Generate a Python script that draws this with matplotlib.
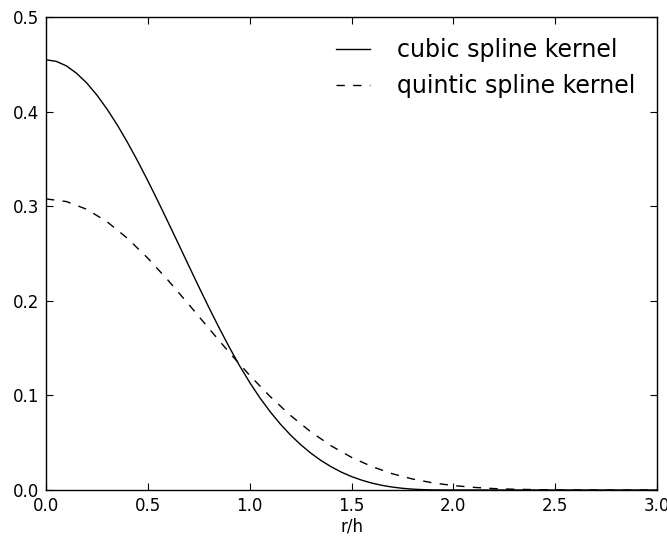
import matplotlib
matplotlib.use("Agg")
import matplotlib.pyplot as plt

# cubic spline kernel values (r/h step 0.05)
cubic_r = [0.00, 0.05, 0.10, 0.15, 0.20, 0.25, 0.30, 0.35, 0.40, 0.45,
           0.50, 0.55, 0.60, 0.65, 0.70, 0.75, 0.80, 0.85, 0.90, 0.95,
           1.00, 1.05, 1.10, 1.15, 1.20, 1.25, 1.30, 1.35, 1.40, 1.45,
           1.50, 1.55, 1.60, 1.65, 1.70, 1.75, 1.80, 1.85, 1.90, 1.95,
           2.00, 2.50, 3.00]
cubic_w = [0.4547, 0.4531, 0.4483, 0.4405, 0.4302, 0.4174, 0.4025, 0.3858, 0.3674, 0.3477,
           0.3268, 0.3051, 0.2828, 0.2602, 0.2375, 0.2149, 0.1928, 0.1714, 0.1509, 0.1315,
           0.1137, 0.0975, 0.0829, 0.0698, 0.0582, 0.0480, 0.0390, 0.0312, 0.0246, 0.0189,
           0.0142, 0.0104, 0.0073, 0.0049, 0.0031, 0.0018, 0.0009, 0.0004, 0.0001, 0.0000,
           0.0000, 0.0000, 0.0000]

# quintic spline kernel values (r/h step 0.1)
quintic_r = [0.0, 0.1, 0.2, 0.3, 0.4, 0.5, 0.6, 0.7, 0.8, 0.9,
             1.0, 1.1, 1.2, 1.3, 1.4, 1.5, 1.6, 1.7, 1.8, 1.9,
             2.0, 2.1, 2.2, 2.3, 2.4, 2.5, 2.6, 2.7, 2.8, 2.9, 3.0]
quintic_w = [0.3077, 0.3049, 0.2967, 0.2835, 0.2660, 0.2450, 0.2215, 0.1964, 0.1707, 0.1453,
             0.1212, 0.0989, 0.0789, 0.0615, 0.0467, 0.0345, 0.0248, 0.0172, 0.0116, 0.0075,
             0.0047, 0.0028, 0.0015, 0.0008, 0.0004, 0.0001, 0.0000, 0.0000, 0.0000, 0.0000, 0.0000]

x_ticks = [0.0, 0.5, 1.0, 1.5, 2.0, 2.5, 3.0]
y_ticks = [0.0, 0.1, 0.2, 0.3, 0.4, 0.5]

fig = plt.figure(figsize=(6.67, 5.39), dpi=100)
ax = fig.add_axes([0.069, 0.0909, 0.916, 0.8776])

ax.plot(cubic_r, cubic_w, color="black", lw=1.0, label="cubic spline kernel")
ax.plot(quintic_r, quintic_w, color="black", lw=1.0, linestyle=(0, (6, 6)),
        label="quintic spline kernel")

ax.set_xlim(0, 3.0)
ax.set_ylim(0, 0.5)
ax.set_xticks(x_ticks)
ax.set_yticks(y_ticks)
ax.set_xticklabels([f"{v:.1f}" for v in x_ticks])
ax.set_yticklabels([f"{v:.1f}" for v in y_ticks])
ax.tick_params(direction="in", top=True, right=True, length=5, width=0.8,
               labelsize=12, pad=5)
ax.set_xlabel("r/h", fontsize=12, labelpad=2)
for s in ax.spines.values():
    s.set_linewidth(1.0)

ax.legend(loc="upper right", frameon=False, fontsize=17, handlelength=1.45,
          handletextpad=1.15, borderaxespad=0.5)

fig.savefig("out.png", dpi=100)
